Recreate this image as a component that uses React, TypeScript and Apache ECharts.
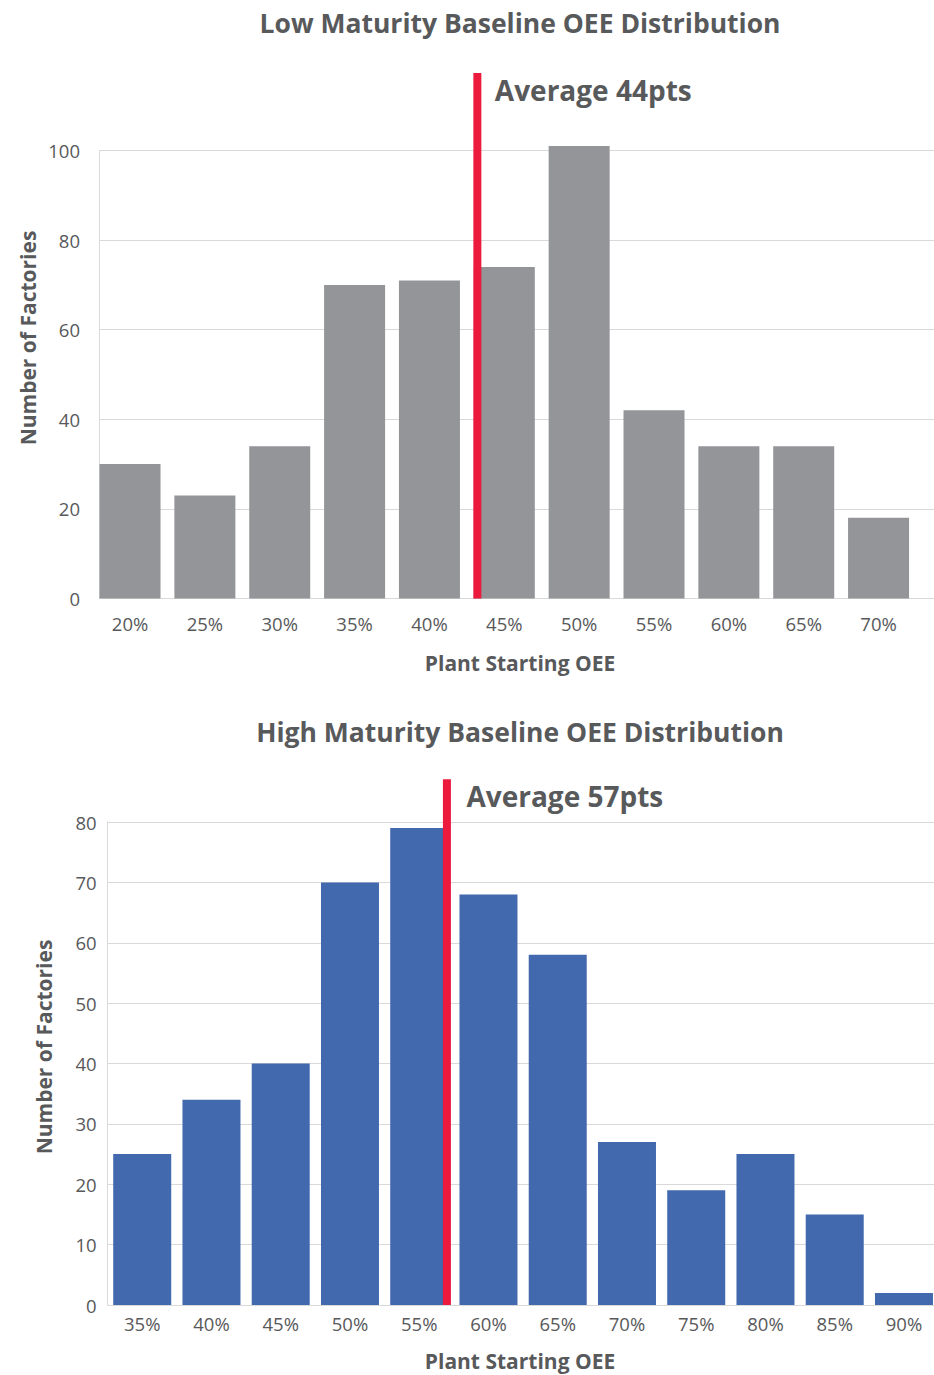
import React, { useEffect, useRef } from 'react';
import * as echarts from 'echarts';

// Low maturity plants
const lowCategories = ['20%', '25%', '30%', '35%', '40%', '45%', '50%', '55%', '60%', '65%', '70%'];
const lowCounts = [30, 23, 34, 70, 71, 74, 101, 42, 34, 34, 18];
const lowAverage = 44;
// where the red marker actually sits on the OEE scale in the picture
const lowAverageLine = 43.2;

// High maturity plants
const highCategories = ['35%', '40%', '45%', '50%', '55%', '60%', '65%', '70%', '75%', '80%', '85%', '90%'];
const highCounts = [25, 34, 40, 70, 79, 68, 58, 27, 19, 25, 15, 2];
const highAverage = 57;
const highAverageLine = 57;

const lowTicks = { min: 0, max: 100, interval: 20 };
const highTicks = { min: 0, max: 80, interval: 10 };

const FONT = '"Open Sans", sans-serif';
const TEXT = '#58595b';
const GRID_LINE = '#d9d9d9';
const RED = '#ec1a3d';

const OeeDistribution: React.FC = () => {
  const chartRef = useRef<HTMLDivElement | null>(null);

  useEffect(() => {
    // the bottom chart's last bar runs right up to the page edge, so the canvas is a bit wider than the window
    document.body.style.margin = '0';
    document.body.style.overflow = 'hidden';
    document.documentElement.style.overflow = 'hidden';
    if (!chartRef.current) return;
    const chart = echarts.init(chartRef.current, undefined, { renderer: 'svg' });

    const label = { color: TEXT, fontFamily: FONT, fontSize: 18.5 };
    const avgLabel = {
      show: true,
      position: 'right' as const,
      color: TEXT,
      fontFamily: FONT,
      fontWeight: 'bold' as const,
      fontSize: 28,
    };
    const titleStyle = (text: string) => ({
      text,
      fill: TEXT,
      font: `bold 26.5px ${FONT}`,
      align: 'center' as const,
      verticalAlign: 'middle' as const,
    });
    const nameStyle = (text: string) => ({
      text,
      fill: TEXT,
      font: `bold 21px ${FONT}`,
      align: 'center' as const,
      verticalAlign: 'middle' as const,
    });

    const option: echarts.EChartsOption = {
      animation: false,
      textStyle: { fontFamily: FONT },
      grid: [
        // top: background gridlines
        { left: 99, top: 150.5, width: 835, height: 448 },
        // top: bars
        { left: 92.6, top: 150.5, width: 823.4, height: 448 },
        // bottom
        { left: 107.6, top: 822, width: 831, height: 483 },
      ],
      xAxis: [
        { gridIndex: 0, type: 'value', min: 0, max: 1, show: false },
        {
          gridIndex: 1,
          type: 'category',
          data: lowCategories,
          axisLine: { show: false },
          axisTick: { show: false },
          axisLabel: { ...label, margin: 15 },
        },
        { gridIndex: 1, type: 'value', min: 17.5, max: 72.5, show: false },
        {
          gridIndex: 2,
          type: 'category',
          data: highCategories,
          axisLine: { show: false },
          axisTick: { show: false },
          axisLabel: { ...label, margin: 9 },
        },
        { gridIndex: 2, type: 'value', min: 32.5, max: 92.5, show: false },
      ],
      yAxis: [
        {
          gridIndex: 0,
          type: 'value',
          ...lowTicks,
          axisLine: { show: true, lineStyle: { color: GRID_LINE, width: 1 } },
          axisTick: { show: false },
          splitLine: { lineStyle: { color: GRID_LINE, width: 1 } },
          axisLabel: { ...label, margin: 19 },
        },
        { gridIndex: 1, type: 'value', ...lowTicks, show: false, splitLine: { show: false } },
        {
          gridIndex: 2,
          type: 'value',
          ...highTicks,
          axisLine: { show: true, lineStyle: { color: GRID_LINE, width: 1 } },
          axisTick: { show: false },
          splitLine: { lineStyle: { color: GRID_LINE, width: 1 } },
          axisLabel: { ...label, margin: 11 },
        },
      ],
      series: [
        {
          type: 'bar',
          xAxisIndex: 1,
          yAxisIndex: 1,
          data: lowCounts,
          barWidth: 61,
          clip: false,
          itemStyle: { color: '#939598' },
        },
        {
          type: 'line',
          xAxisIndex: 2,
          yAxisIndex: 1,
          data: [
            [lowAverageLine, 0],
            [lowAverageLine, 117.3],
          ],
          symbol: 'none',
          clip: false,
          lineStyle: { color: RED, width: 8, cap: 'butt' },
          z: 5,
        },
        {
          type: 'scatter',
          xAxisIndex: 2,
          yAxisIndex: 1,
          data: [[lowAverageLine, 113.5]],
          symbolSize: 1,
          clip: false,
          itemStyle: { color: 'transparent', opacity: 1 },
          label: { ...avgLabel, distance: 17, formatter: `Average ${lowAverage}pts` },
        },
        {
          type: 'bar',
          xAxisIndex: 3,
          yAxisIndex: 2,
          data: highCounts,
          barWidth: 58,
          clip: false,
          itemStyle: { color: '#4268ad' },
        },
        {
          type: 'line',
          xAxisIndex: 4,
          yAxisIndex: 2,
          data: [
            [highAverageLine, 0],
            [highAverageLine, 87.1],
          ],
          symbol: 'none',
          clip: false,
          lineStyle: { color: RED, width: 8, cap: 'butt' },
          z: 5,
        },
        {
          type: 'scatter',
          xAxisIndex: 4,
          yAxisIndex: 2,
          data: [[highAverageLine, 84.3]],
          symbolSize: 1,
          clip: false,
          itemStyle: { color: 'transparent', opacity: 1 },
          label: { ...avgLabel, distance: 19, formatter: `Average ${highAverage}pts` },
        },
      ],
      graphic: [
        { type: 'text', x: 520, y: 23, style: titleStyle('Low Maturity Baseline OEE Distribution') },
        { type: 'text', x: 520, y: 732, style: titleStyle('High Maturity Baseline OEE Distribution') },
        { type: 'text', x: 520, y: 663, style: nameStyle('Plant Starting OEE') },
        { type: 'text', x: 520, y: 1361, style: nameStyle('Plant Starting OEE') },
        { type: 'text', x: 28, y: 338, rotation: Math.PI / 2, style: nameStyle('Number of Factories') },
        { type: 'text', x: 44, y: 1047, rotation: Math.PI / 2, style: nameStyle('Number of Factories') },
      ],
    };

    chart.setOption(option);

    return () => {
      chart.dispose();
    };
  }, []);

  return <div ref={chartRef} style={{ width: '940px', height: '1375px' }} />;
};

export default function App() {
  return <OeeDistribution />;
}
